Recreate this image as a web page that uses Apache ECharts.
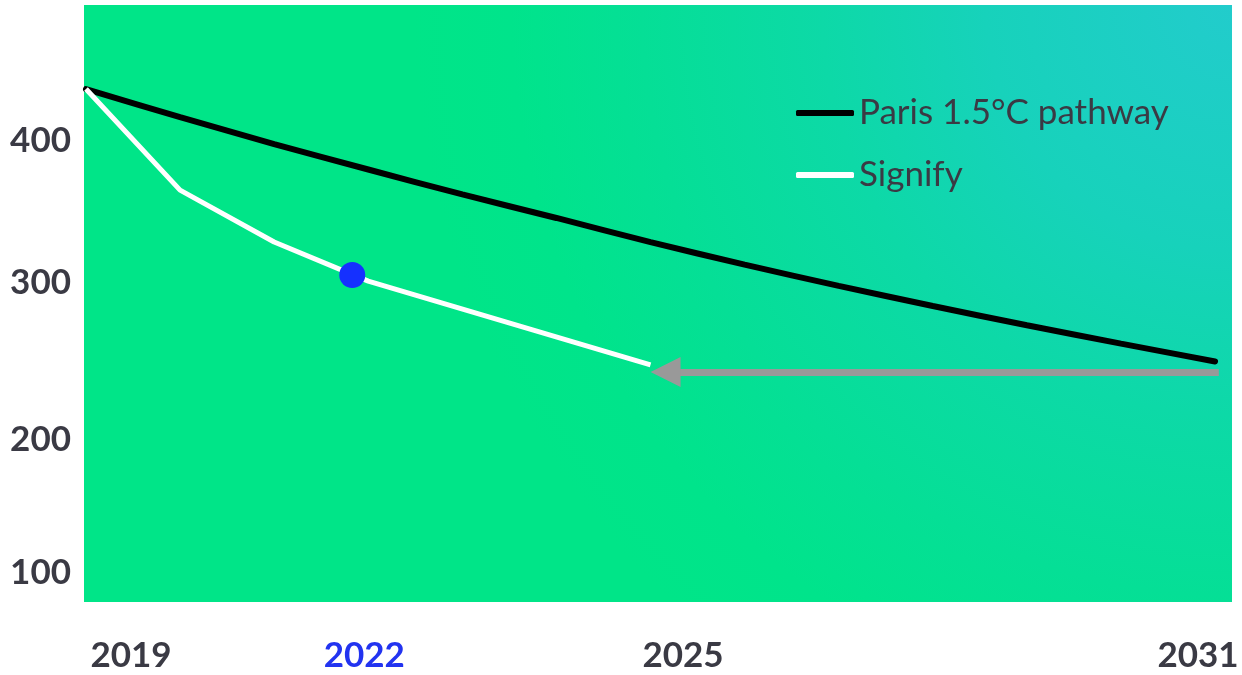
<!DOCTYPE html>
<html>
<head>
<meta charset="utf-8">
<script src="https://cdn.jsdelivr.net/npm/echarts@6/dist/echarts.min.js"></script>
<style>
  html, body { margin: 0; padding: 0; background: #ffffff; }
  #chart { width: 1242px; height: 675px; }
</style>
</head>
<body>
<div id="chart"></div>
<script>
// ---- data ----
const years = [2019, 2020, 2021, 2022, 2023, 2024, 2025, 2026, 2027, 2028, 2029, 2030, 2031];
const parisValues = [435.6, 416.4, 397.9, 380.5, 363.4, 347.3, 330.8, 315.3, 300.8, 287.0, 273.8, 261.2, 249.0];
const signifyYears = [2019, 2020, 2021, 2022, 2025];
const signifyValues = [435.6, 366.4, 330.8, 304.0, 246.6];
const currentPoint = [2021.83, 308.2];
const arrowStart = [2031.04, 241.8];
const arrowEnd = [2025.16, 241.8];
const xTickValues = [2019, 2022, 2025, 2031];
const xTickLabels = ['2019', '2022', '2025', '2031'];
const yTickValues = [100, 200, 300, 400];
const yTickLabels = ['100', '200', '300', '400'];
const seriesNames = ['Paris 1.5°C pathway', 'Signify'];

const parisData = years.map((y, i) => [y, parisValues[i]]);
const signifyData = signifyYears.map((y, i) => [y, signifyValues[i]]);

const labelColor = '#3a3a44';
const fontFamily = 'Lato, "Open Sans", sans-serif';

const chart = echarts.init(document.getElementById('chart'), null, { renderer: 'canvas' });

const option = {
  animation: false,
  grid: {
    left: 84, top: 5, right: 10, bottom: 73,
    containLabel: false,
    outerBoundsMode: 'none',
    show: true,
    borderWidth: 0,
    backgroundColor: {
      type: 'radial', x: 1232, y: 5, r: 820, global: true,
      colorStops: [
        { offset: 0, color: '#22cccc' },
        { offset: 0.3, color: '#17d2bb' },
        { offset: 0.5, color: '#0dd9a7' },
        { offset: 0.72, color: '#05df96' },
        { offset: 0.88, color: '#00e48b' },
        { offset: 1, color: '#00e588' }
      ]
    }
  },
  legend: {
    orient: 'vertical',
    left: 791, top: 88,
    itemWidth: 58, itemHeight: 6, itemGap: 22,
    icon: 'roundRect',
    data: seriesNames,
    textStyle: { color: labelColor, fontSize: 35, fontFamily: fontFamily, lineHeight: 40 },
    selectedMode: false
  },
  xAxis: {
    type: 'value',
    min: 2018.979, max: 2031.18,
    axisLine: { show: false }, axisTick: { show: false }, splitLine: { show: false },
    axisLabel: {
      customValues: xTickValues,
      margin: 36,
      fontSize: 35, fontWeight: 'bold', fontFamily: fontFamily, color: labelColor,
      formatter: function (v) {
        const i = xTickValues.indexOf(v);
        return '{x' + i + '|' + xTickLabels[i] + '}';
      },
      rich: {
        x0: { padding: [0, 0, 0, 90], fontSize: 35, fontWeight: 'bold', fontFamily: fontFamily, color: labelColor },
        x1: { padding: [0, 8, 0, 0], fontSize: 35, fontWeight: 'bold', fontFamily: fontFamily, color: '#2233f0' },
        x2: { padding: [0, 0, 0, 65], fontSize: 35, fontWeight: 'bold', fontFamily: fontFamily, color: labelColor },
        x3: { padding: [0, 34, 0, 0], fontSize: 35, fontWeight: 'bold', fontFamily: fontFamily, color: labelColor }
      }
    }
  },
  yAxis: {
    type: 'value',
    min: 84.2, max: 493.2,
    axisLine: { show: false }, axisTick: { show: false }, splitLine: { show: false },
    axisLabel: {
      customValues: yTickValues,
      margin: 13,
      fontSize: 35, fontWeight: 'bold', fontFamily: fontFamily, color: labelColor,
      formatter: function (v) {
        const i = yTickValues.indexOf(v);
        return '{y' + i + '|' + yTickLabels[i] + '}';
      },
      rich: {
        y0: { padding: [0, 0, 12, 0], fontSize: 35, fontWeight: 'bold', fontFamily: fontFamily, color: labelColor },
        y1: { padding: [14, 0, 0, 0], fontSize: 35, fontWeight: 'bold', fontFamily: fontFamily, color: labelColor },
        y2: { padding: [0, 0, 8, 0], fontSize: 35, fontWeight: 'bold', fontFamily: fontFamily, color: labelColor },
        y3: { padding: [0, 0, 0, 0], fontSize: 35, fontWeight: 'bold', fontFamily: fontFamily, color: labelColor }
      }
    }
  },
  series: [
    {
      name: seriesNames[0],
      type: 'line',
      data: parisData,
      symbol: 'none',
      smooth: 0.3,
      lineStyle: { color: '#000000', width: 6, cap: 'round' },
      itemStyle: { color: '#000000' },
      z: 3
    },
    {
      name: seriesNames[1],
      type: 'line',
      data: signifyData,
      symbol: 'none',
      lineStyle: { color: '#ffffff', width: 5 },
      itemStyle: { color: '#ffffff' },
      z: 4
    },
    {
      name: 'arrow',
      type: 'line',
      data: [],
      symbol: 'none',
      z: 2,
      markLine: {
        silent: true,
        symbol: ['none', 'triangle'],
        symbolSize: 30,
        label: { show: false },
        lineStyle: { color: '#999999', width: 7, type: 'solid' },
        itemStyle: { color: '#999999' },
        emphasis: { disabled: true },
        data: [[{ coord: arrowStart }, { coord: arrowEnd }]]
      }
    },
    {
      name: 'current',
      type: 'scatter',
      data: [currentPoint],
      symbol: 'circle',
      symbolSize: 26,
      itemStyle: { color: '#1530ff', opacity: 1 },
      z: 5
    }
  ]
};

chart.setOption(option);
</script>
</body>
</html>
